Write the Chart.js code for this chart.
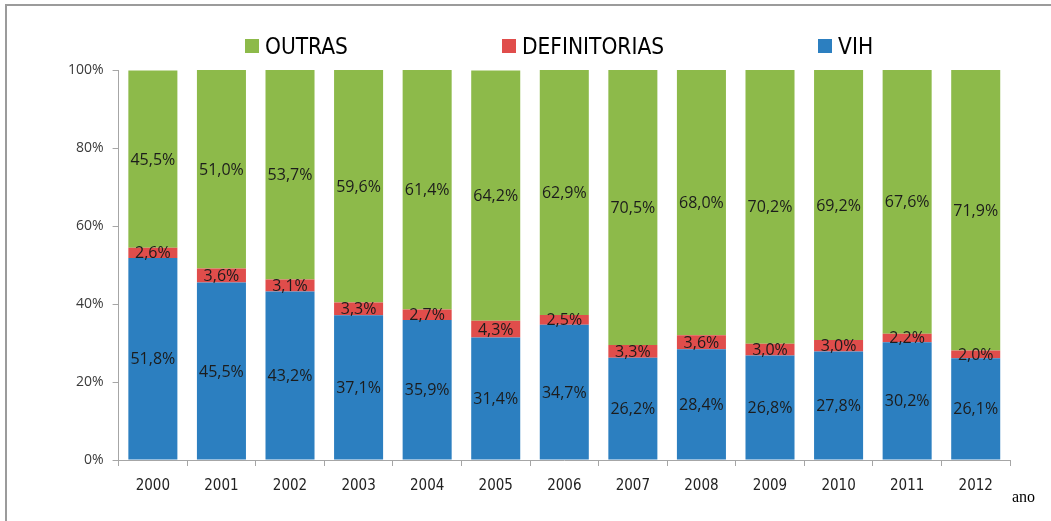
<!DOCTYPE html>
<html>
<head>
<meta charset="utf-8">
<script src="https://cdn.jsdelivr.net/npm/chart.js@4.4.1/dist/chart.umd.min.js"></script>
<style>
  html, body { margin: 0; padding: 0; background: #ffffff; }
  #wrap { position: relative; width: 1051px; height: 521px; overflow: hidden; }
  #frame { position: absolute; left: 5px; top: 4px; width: 1200px; height: 700px;
           border-top: 2px solid #9b9b9b; border-left: 2px solid #9b9b9b; pointer-events: none; }
  canvas { position: absolute; left: 0; top: 0; }
  #legend { position: absolute; left: 245px; top: 34px; display: flex; gap: 154px;
            font-family: "DejaVu Sans Condensed", "DejaVu Sans", sans-serif; font-size: 22.5px;
            color: #000000; line-height: 24px; white-space: nowrap; }
  #legend .item { display: flex; align-items: center; }
  #legend .box { width: 14px; height: 14px; margin-right: 6px; }
</style>
</head>
<body>
<div id="wrap">
  <canvas id="chart" width="1051" height="521"></canvas>
  <div id="legend"></div>
  <div id="frame"></div>
</div>
<script>
// Years on the horizontal axis
const years = ['2000', '2001', '2002', '2003', '2004', '2005', '2006',
               '2007', '2008', '2009', '2010', '2011', '2012'];

// Share of deaths per year (%)
const vih          = [51.8, 45.5, 43.2, 37.1, 35.9, 31.4, 34.7, 26.2, 28.4, 26.8, 27.8, 30.2, 26.1];
const definitorias = [2.6, 3.6, 3.1, 3.3, 2.7, 4.3, 2.5, 3.3, 3.6, 3.0, 3.0, 2.2, 2.0];
const outras       = [45.5, 51.0, 53.7, 59.6, 61.4, 64.2, 62.9, 70.5, 68.0, 70.2, 69.2, 67.6, 71.9];

// Percentage axis ticks
const yTicks = [0, 20, 40, 60, 80, 100];

const pct = v => v.toFixed(1).replace('.', ',') + '%';

// Writes each segment's value in the middle of its bar
const segmentLabels = {
  id: 'segmentLabels',
  afterDatasetsDraw(chart) {
    const ctx = chart.ctx;
    ctx.save();
    ctx.font = '16px "Open Sans", sans-serif';
    ctx.fillStyle = '#1c1c1c';
    ctx.textAlign = 'center';
    ctx.textBaseline = 'middle';
    chart.data.datasets.forEach((ds, i) => {
      const meta = chart.getDatasetMeta(i);
      meta.data.forEach((bar, j) => {
        const p = bar.getProps(['x', 'y', 'base'], true);
        ctx.fillText(pct(ds.data[j]), p.x, (p.y + p.base) / 2 + 1);
      });
    });
    ctx.restore();
  }
};

// Axis name placed past the right end of the category axis
const axisName = {
  id: 'axisName',
  afterDraw(chart) {
    const ctx = chart.ctx;
    const area = chart.chartArea;
    ctx.save();
    ctx.font = '16px "Liberation Serif", serif';
    ctx.fillStyle = '#000000';
    ctx.textAlign = 'left';
    ctx.textBaseline = 'middle';
    ctx.fillText('ano', area.right + 2, area.bottom + 38);
    ctx.restore();
  }
};

const axisColor = '#a6a6a6';

const chart = new Chart(document.getElementById('chart'), {
  type: 'bar',
  data: {
    labels: years,
    datasets: [
      { label: 'VIH', data: vih, backgroundColor: '#2c7fc0' },
      { label: 'DEFINITORIAS', data: definitorias, backgroundColor: '#e04d4b' },
      { label: 'OUTRAS', data: outras, backgroundColor: '#8dba4a' }
    ]
  },
  options: {
    responsive: false,
    animation: false,
    devicePixelRatio: 1,
    layout: { padding: { left: 59, right: 41, top: 70, bottom: 15 } },
    datasets: { bar: { categoryPercentage: 1.0, barPercentage: 0.715, borderWidth: 0 } },
    plugins: {
      tooltip: { enabled: false },
      legend: { display: false }
    },
    scales: {
      x: {
        stacked: true,
        grid: { display: true, drawOnChartArea: false, drawTicks: true, tickLength: 6, color: axisColor },
        border: { display: true, color: axisColor, width: 1 },
        ticks: {
          color: '#222222',
          padding: 11,
          font: { family: '"DejaVu Sans Condensed", "DejaVu Sans", sans-serif', size: 15 }
        }
      },
      y: {
        stacked: true,
        min: 0,
        max: 100,
        afterBuildTicks(axis) { axis.ticks = yTicks.map(v => ({ value: v })); },
        grid: { display: true, drawOnChartArea: false, drawTicks: true, tickLength: 6, color: axisColor },
        border: { display: true, color: axisColor, width: 1 },
        ticks: {
          color: '#3a3a3a',
          padding: 9,
          font: { family: '"Open Sans", sans-serif', size: 14 },
          callback: v => v + '%'
        }
      }
    }
  },
  plugins: [segmentLabels, axisName]
});

// Legend built from the datasets, top series first
const legendEl = document.getElementById('legend');
chart.data.datasets.slice().reverse().forEach(ds => {
  const item = document.createElement('div');
  item.className = 'item';
  const box = document.createElement('span');
  box.className = 'box';
  box.style.background = ds.backgroundColor;
  const text = document.createElement('span');
  text.textContent = ds.label;
  item.appendChild(box);
  item.appendChild(text);
  legendEl.appendChild(item);
});
</script>
</body>
</html>
